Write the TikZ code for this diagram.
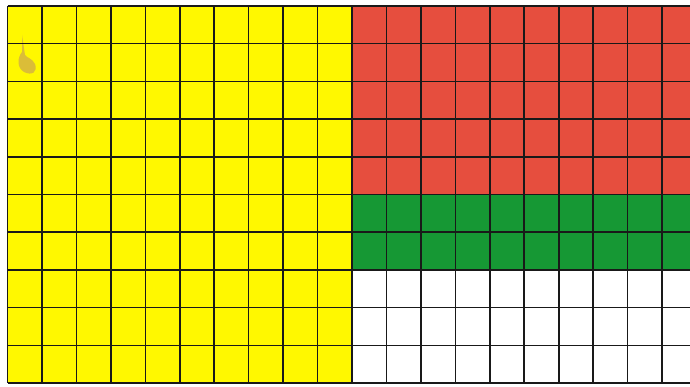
\documentclass[tikz,border=0pt]{standalone}
\definecolor{gyellow}{RGB}{255,248,0}
\definecolor{gred}{RGB}{230,78,62}
\definecolor{ggreen}{RGB}{22,152,52}
\definecolor{stain}{RGB}{210,175,70}
\tikzset{
  gridline/.style={line width=1.6pt, draw=black!90},
  yellowfill/.style={fill=gyellow},
  redfill/.style={fill=gred},
  greenfill/.style={fill=ggreen},
  whitefill/.style={fill=white},
}
\begin{document}
\begin{tikzpicture}[x=1pt,y=-1pt]
\useasboundingbox (0,0) rectangle (690,387);
\clip (0,0) rectangle (690,387);
\fill[white] (0,0) rectangle (690,387);
% cell geometry: columns at 7.5 + 34.45k, rows at 6 + 37.7j
\def\cw{34.45}
\def\rh{37.7}
\def\xo{7.5}
\def\yo{6}
% fills
\fill[yellowfill] (\xo,\yo) rectangle (\xo+10*\cw,\yo+10*\rh);
\fill[redfill] (\xo+10*\cw,\yo) rectangle (\xo+20*\cw,\yo+5*\rh);
\fill[greenfill] (\xo+10*\cw,\yo+5*\rh) rectangle (\xo+20*\cw,\yo+7*\rh);
\fill[whitefill] (\xo+10*\cw,\yo+7*\rh) rectangle (\xo+20*\cw,\yo+10*\rh);
% stain
\fill[stain, opacity=0.8] (22,52) .. controls (17,58) and (17,68) .. (24,72) .. controls (32,76) and (38,72) .. (35,64) .. controls (32,58) and (27,58) .. (25,55) -- (22,35) -- cycle;
% grid lines
\foreach \k in {0,...,20} {
  \draw[gridline] (\xo+\k*\cw,\yo) -- (\xo+\k*\cw,\yo+10*\rh);
}
\foreach \j in {0,...,10} {
  \draw[gridline] (\xo,\yo+\j*\rh) -- (\xo+20*\cw,\yo+\j*\rh);
}
\end{tikzpicture}
\end{document}
